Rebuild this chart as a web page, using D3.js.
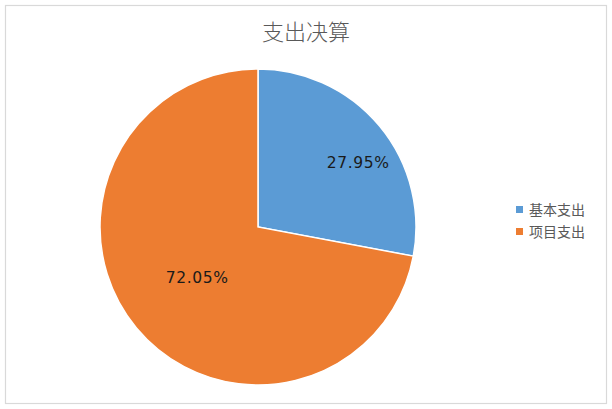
<!DOCTYPE html>
<html><head><meta charset="utf-8">
<script src="https://cdn.jsdelivr.net/npm/d3@7/dist/d3.min.js"></script>
<style>html,body{margin:0;padding:0;background:#fff;}</style>
</head><body>
<svg id="chart" width="612" height="409"></svg>
<script>
const categories = ["基本支出", "项目支出"];
const values = [27.95, 72.05];
const labels = ["27.95%", "72.05%"];
const colors = ["#5B9BD5", "#ED7D31"];
const title = "支出决算";

const svg = d3.select("#chart");
svg.append("rect").attr("x", 5.5).attr("y", 5.5).attr("width", 601).attr("height", 398)
  .attr("fill", "#fff").attr("stroke", "#d9d9d9").attr("stroke-width", 1.2);

svg.append("text").attr("x", 306).attr("y", 40).attr("text-anchor", "middle")
  .attr("font-family", "Noto Sans CJK SC").attr("font-weight", 300)
  .attr("font-size", 22).attr("fill", "#595959").text(title);

const cx = 258, cy = 227, r = 158;
const pie = d3.pie().sort(null).value(d => d)(values);
const arc = d3.arc().innerRadius(0).outerRadius(r);
const g = svg.append("g").attr("transform", `translate(${cx},${cy})`);
g.selectAll("path").data(pie).join("path")
  .attr("d", arc).attr("fill", (d, i) => colors[i])
  .attr("stroke", "#fff").attr("stroke-width", 1.5);

// label placement (layout): radius fraction and angle shift per slice
const labRad = [0.755, 0.5];
const labShift = [0.118, 0.0];
g.selectAll("text.lbl").data(pie).join("text").attr("class", "lbl")
  .attr("transform", (d, i) => {
    const a = (d.startAngle + d.endAngle) / 2 + labShift[i];
    const rr = r * labRad[i];
    return `translate(${rr * Math.sin(a)},${-rr * Math.cos(a)})`;
  })
  .attr("text-anchor", "middle").attr("dy", "0.36em")
  .attr("font-family", "DejaVu Sans").attr("font-size", 15.5).attr("letter-spacing", 0.6)
  .attr("fill", "#1a1a1a")
  .text((d, i) => labels[i]);

const leg = svg.append("g").attr("transform", "translate(516,210)");
categories.forEach((c, i) => {
  const row = leg.append("g").attr("transform", `translate(0,${i * 22})`);
  row.append("rect").attr("x", 0).attr("y", -4).attr("width", 7).attr("height", 7).attr("fill", colors[i]);
  row.append("text").attr("x", 13).attr("y", 0).attr("dy", "0.36em")
    .attr("font-family", "Noto Sans CJK SC").attr("font-size", 14).attr("fill", "#595959").text(c);
});
</script>
</body></html>
